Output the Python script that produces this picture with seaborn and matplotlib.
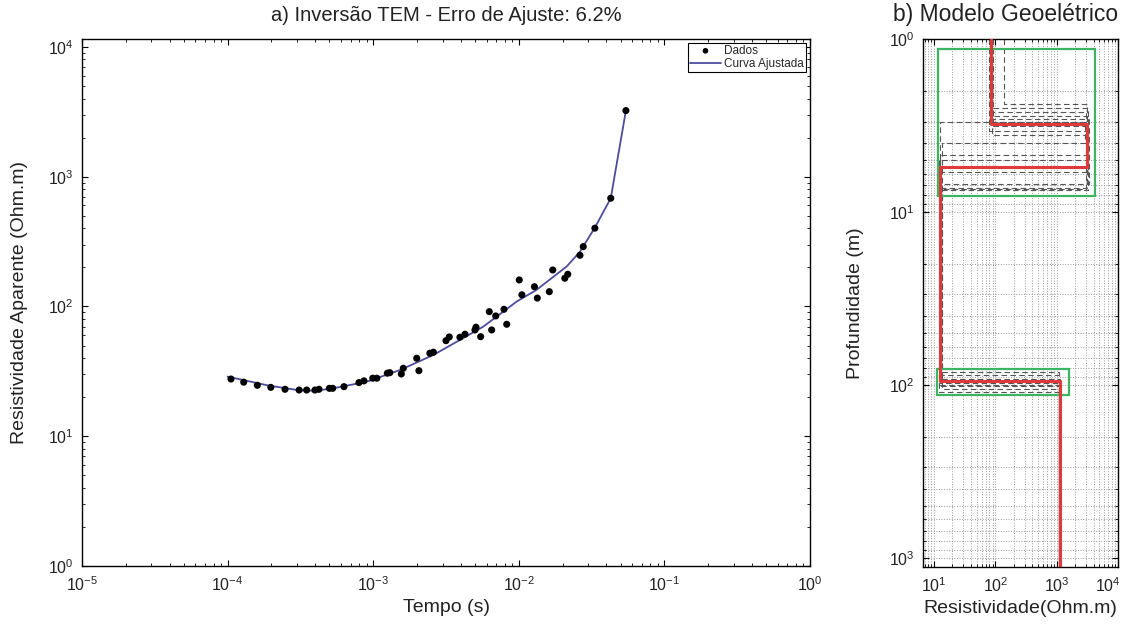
import numpy as np
import pandas as pd
import matplotlib
matplotlib.use("Agg")
import matplotlib.pyplot as plt
import seaborn as sns
from matplotlib.patches import Rectangle
from matplotlib.ticker import LogLocator, NullFormatter, FixedLocator
import matplotlib.transforms as mtransforms

# ---------------- data: left panel ----------------
data_time = [1.055e-4, 1.29e-4, 1.60e-4, 1.98e-4, 2.48e-4, 3.10e-4, 3.49e-4, 3.98e-4,
             4.24e-4, 5.00e-4, 5.27e-4, 6.30e-4, 7.98e-4, 8.64e-4, 9.93e-4, 1.06e-3,
             1.25e-3, 1.30e-3, 1.56e-3, 1.61e-3, 1.99e-3, 2.06e-3, 2.45e-3, 2.59e-3,
             3.16e-3, 3.33e-3, 3.94e-3, 4.27e-3, 5.00e-3, 5.08e-3, 5.47e-3, 6.27e-3,
             6.51e-3, 6.94e-3, 7.91e-3, 8.26e-3, 1.007e-2, 1.05e-2, 1.28e-2, 1.34e-2,
             1.62e-2, 1.71e-2, 2.07e-2, 2.17e-2, 2.63e-2, 2.77e-2, 3.33e-2, 4.28e-2,
             5.44e-2]
data_rho = [27.6, 26.1, 24.7, 23.8, 23.0, 22.7, 22.7, 22.7,
            23.0, 23.4, 23.4, 24.1, 25.9, 26.7, 28.0, 28.0,
            30.6, 30.9, 30.2, 33.4, 39.9, 32.0, 43.6, 44.4,
            54.5, 58.2, 57.9, 61.1, 65.9, 69.2, 58.5, 91.2,
            65.9, 84.5, 95.1, 72.9, 160.0, 123.0, 142.0, 116.0,
            130.0, 191.0, 165.0, 177.0, 248.0, 289.0, 401.0, 682.0,
            3230.0]

curve_time = [1.0e-4, 1.9e-4, 3.1e-4, 4.0e-4, 5.3e-4, 9.0e-4, 1.53e-3, 2.59e-3,
              3.94e-3, 5.7e-3, 9.66e-3, 1.32e-2, 2.13e-2, 2.63e-2, 3.33e-2, 4.28e-2,
              5.44e-2]
curve_rho = [28.8, 24.6, 22.6, 22.4, 23.4, 26.3, 32.4, 42.3,
             55.2, 69.9, 109.0, 134.0, 203.0, 264.0, 405.0, 682.0,
             3230.0]

# ---------------- data: right panel ----------------
# best model: layer resistivities (top to bottom) and interface depths
best_rho = [85.0, 3130.0, 12.5, 1117.0]
best_depth = [3.12, 5.5, 95.0]

# alternative (equivalent) models shown dashed
alt_rho = [[137.0, 3100.0, 13.0, 1100.0],
           [85.0, 3000.0, 12.5, 1100.0],
           [80.0, 3300.0, 13.0, 1120.0],
           [90.0, 2900.0, 13.5, 1080.0],
           [82.0, 3200.0, 12.5, 1100.0],
           [85.0, 3400.0, 13.5, 1110.0],
           [88.0, 3100.0, 12.0, 1090.0],
           [84.0, 3000.0, 13.0, 1100.0],
           [86.0, 3200.0, 12.8, 1105.0]]
alt_depth = [[2.39, 7.3, 95.0],
             [2.66, 3.0, 100.0],
             [3.4, 7.5, 92.0],
             [3.0, 4.0, 105.0],
             [2.9, 4.7, 98.0],
             [2.8, 6.9, 88.0],
             [3.6, 5.0, 110.0],
             [3.2, 7.4, 102.0],
             [2.5, 5.9, 84.0]]

# uncertainty boxes: (rho_min, rho_max, depth_min, depth_max)
box_rho_min = [11.7, 11.0]
box_rho_max = [4200.0, 1610.0]
box_depth_min = [1.14, 81.0]
box_depth_max = [8.1, 115.0]

depth_limits = [1.0, 1130.0]
rho_ticks = [1e1, 1e2, 1e3, 1e4]

# ---------------- style ----------------
sns.set_theme(style="ticks")
plt.rcParams['font.family'] = ['Liberation Sans', 'DejaVu Sans']
plt.rcParams['mathtext.fontset'] = 'custom'
plt.rcParams['mathtext.rm'] = 'Liberation Sans'
plt.rcParams['mathtext.it'] = 'Liberation Sans'
plt.rcParams['mathtext.default'] = 'regular'
plt.rcParams['axes.unicode_minus'] = False

fig = plt.figure(figsize=(11.25, 6.24), dpi=100)
ax1 = fig.add_axes([0.0729, 0.0929, 0.6471, 0.8446])
ax2 = fig.add_axes([0.8204, 0.0913, 0.1733, 0.8462])


def style_axis(ax):
    for s in ax.spines.values():
        s.set_color('black')
        s.set_linewidth(1.0)
    ax.tick_params(which='both', direction='in', top=True, right=True,
                   colors='black', labelcolor='#222222', labelsize=11.5)
    ax.tick_params(which='major', length=4, width=0.8)
    ax.tick_params(which='minor', length=2.5, width=0.6)


# ---------------- left panel ----------------
df_data = pd.DataFrame({'t': data_time, 'rho': data_rho})
df_curve = pd.DataFrame({'t': curve_time, 'rho': curve_rho})

sns.lineplot(data=df_curve, x='t', y='rho', ax=ax1, color='#4c4c9c', lw=1.3,
             sort=False, estimator=None, label='Curva Ajustada', zorder=2)
sns.scatterplot(data=df_data, x='t', y='rho', ax=ax1, color='black', s=26,
                edgecolor='none', label='Dados', zorder=3)
ax1.set_xscale('log')
ax1.set_yscale('log')
ax1.set_xlim(1e-5, 1e0)
ax1.set_ylim(1e0, 1.15e4)
ax1.xaxis.set_major_locator(LogLocator(base=10, numticks=10))
ax1.yaxis.set_major_locator(LogLocator(base=10, numticks=10))
ax1.xaxis.set_minor_locator(LogLocator(base=10, subs=np.arange(2, 10), numticks=20))
ax1.yaxis.set_minor_locator(LogLocator(base=10, subs=np.arange(2, 10), numticks=20))
ax1.xaxis.set_minor_formatter(NullFormatter())
ax1.yaxis.set_minor_formatter(NullFormatter())
style_axis(ax1)
ax1.tick_params(axis='x', pad=7)
ax1.tick_params(axis='y', pad=6)
ax1.set_xlabel('Tempo (s)', fontsize=14, color='#222222', labelpad=3)
ax1.set_ylabel('Resistividade Aparente (Ohm.m)', fontsize=14, color='#222222', labelpad=14)
ax1.set_title('a) Inversão TEM - Erro de Ajuste: 6.2%', fontsize=14.5, color='#222222', pad=13)

handles, labels = ax1.get_legend_handles_labels()
order = [labels.index('Dados'), labels.index('Curva Ajustada')]
leg = ax1.legend([handles[i] for i in order], [labels[i] for i in order],
                 loc='upper right', fontsize=8.5, frameon=True, fancybox=False,
                 edgecolor='black', framealpha=1, borderpad=0.2, handlelength=2.6,
                 handletextpad=0.3, labelspacing=0.1, borderaxespad=0.3,
                 markerscale=0.8)
leg.get_frame().set_linewidth(0.8)

# ---------------- right panel ----------------
def profile(rhos, depths, top, bottom):
    xs, ys = [], []
    bounds = [top] + list(depths) + [bottom]
    for i, r in enumerate(rhos):
        xs += [r, r]
        ys += [bounds[i], bounds[i + 1]]
    return pd.DataFrame({'rho': xs, 'depth': ys})

for r, d in zip(alt_rho, alt_depth):
    dfa = profile(r, d, depth_limits[0], depth_limits[1])
    sns.lineplot(data=dfa, x='rho', y='depth', ax=ax2, color='#555555', lw=0.8,
                 linestyle=(0, (5, 3)), sort=False, estimator=None, zorder=2)

for x0, x1, y0, y1 in zip(box_rho_min, box_rho_max, box_depth_min, box_depth_max):
    ax2.add_patch(Rectangle((x0, y0), x1 - x0, y1 - y0, fill=False,
                            edgecolor='#3cb462', lw=1.6, zorder=3))

dfb = profile(best_rho, best_depth, depth_limits[0], depth_limits[1])
sns.lineplot(data=dfb, x='rho', y='depth', ax=ax2, color='#e0393a', lw=2.2,
             sort=False, estimator=None, zorder=4)

ax2.set_xscale('log')
ax2.set_yscale('log')
ax2.set_xlim(6.6, 1.0001e4)
ax2.set_ylim(depth_limits[1], depth_limits[0])
ax2.xaxis.set_major_locator(FixedLocator(rho_ticks))
ax2.yaxis.set_major_locator(LogLocator(base=10, numticks=10))
ax2.xaxis.set_minor_locator(LogLocator(base=10, subs=np.arange(2, 10), numticks=20))
ax2.yaxis.set_minor_locator(LogLocator(base=10, subs=np.arange(2, 10), numticks=20))
ax2.xaxis.set_minor_formatter(NullFormatter())
ax2.yaxis.set_minor_formatter(NullFormatter())
ax2.grid(True, which='both', color='#999999', linestyle=':', linewidth=0.7)
ax2.set_axisbelow(True)
style_axis(ax2)
ax2.tick_params(axis='x', pad=7)
ax2.tick_params(axis='y', pad=6)
ax2.set_xlabel('Resistividade(Ohm.m)', fontsize=14, color='#222222', labelpad=3)
ax2.set_ylabel('Profundidade (m)', fontsize=14, color='#222222', labelpad=18)
ax2.set_title('b) Modelo Geoelétrico', fontsize=16.5, color='#222222', pad=13, loc='right')
if ax2.get_legend() is not None:
    ax2.get_legend().remove()

# keep the last x tick label inside the figure
fig.canvas.draw()
last_tick = ax2.xaxis.get_major_ticks()[-1]
last_tick.label1.set_horizontalalignment('right')
last_tick.label1.set_transform(last_tick.label1.get_transform() +
                               mtransforms.ScaledTranslation(3 / 100, 0, fig.dpi_scale_trans))

fig.savefig('out.png', dpi=100)
